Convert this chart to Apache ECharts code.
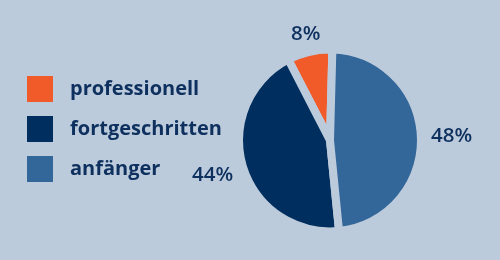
<!DOCTYPE html>
<html><head><meta charset="utf-8">
<script src="https://cdn.jsdelivr.net/npm/echarts@6/dist/echarts.min.js"></script>
<style>html,body{margin:0;padding:0;background:#bccbdc;}#c{width:500px;height:260px;}</style>
</head><body><div id="c"></div>
<script>
const categories = ['professionell', 'fortgeschritten', 'anfänger'];
const values = [8, 44, 48];
const labels = ['8%', '44%', '48%'];
const colors = ['#f15a29', '#002f5f', '#336699'];

const bg = '#bccbdc';
const navy = '#0d305e';
const CX = 0.66, CY = 0.54;
const chart = echarts.init(document.getElementById('c'), null, {renderer: 'canvas'});
const pieData = categories.map((c, i) => ({name: c, value: values[i], itemStyle: {color: colors[i]}}));
// place each label so its nearest edge sits at a fixed gap beyond the pie rim
function placeLabel(p) {
  const r = p.labelRect;
  const cx = chart.getWidth() * CX, cy = chart.getHeight() * CY;
  const lx = r.x + r.width / 2, ly = r.y + r.height / 2;
  const dx = lx - cx, dy = ly - cy, d = Math.hypot(dx, dy);
  const ux = dx / d, uy = dy / d;
  const hw = r.width / 2, hh = r.height * 0.36;
  const t = Math.min(Math.abs(ux) > 1e-6 ? hw / Math.abs(ux) : 1e9, Math.abs(uy) > 1e-6 ? hh / Math.abs(uy) : 1e9);
  const target = 101 + t;
  return {x: cx + ux * target, y: cy + uy * target, align: 'center', verticalAlign: 'middle'};
}
chart.setOption({
  backgroundColor: bg,
  animation: false,
  legend: {
    orient: 'vertical', left: 27, top: 76, padding: 0,
    itemWidth: 26, itemHeight: 26, itemGap: 14,
    icon: 'rect',
    itemStyle: {borderWidth: 0},
    data: categories,
    textStyle: {color: navy, fontSize: 20, fontWeight: 'bold', fontFamily: 'Open Sans', padding: [2, 0, 0, 12]}
  },
  series: [{
    type: 'pie', center: [CX * 100 + '%', CY * 100 + '%'], radius: [0, 91],
    startAngle: 88.5, clockwise: false,
    itemStyle: {borderColor: bg, borderWidth: 8},
    label: {show: false}, labelLine: {show: false},
    emphasis: {disabled: true},
    data: pieData
  }, {
    type: 'pie', center: [CX * 100 + '%', CY * 100 + '%'], radius: [96, 134],
    startAngle: 88.5, clockwise: false, silent: true,
    itemStyle: {color: 'rgba(0,0,0,0)'},
    label: {show: true, position: 'inside', formatter: p => labels[p.dataIndex],
      color: navy, fontSize: 20.5, fontFamily: 'Open Sans', fontWeight: 600},
    labelLine: {show: false},
    labelLayout: placeLabel,
    legendHoverLink: false,
    emphasis: {disabled: true},
    data: categories.map((c, i) => ({name: c + ' ', value: values[i]}))
  }]
});
</script></body></html>
